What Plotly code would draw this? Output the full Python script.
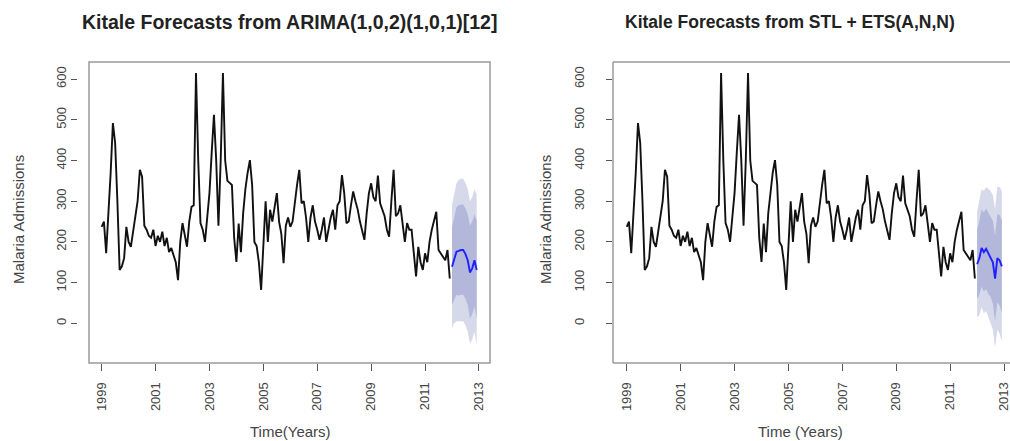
import plotly.graph_objects as go

# ---------------- data ----------------
start_year = 1999
admissions = [
    237, 250, 172, 260, 369, 492, 443, 300, 131, 140, 160, 237,   # 1999
    200, 188, 230, 260, 300, 377, 360, 240, 230, 215, 210, 230,   # 2000
    190, 215, 200, 225, 190, 210, 175, 185, 164, 150, 106, 200,   # 2001
    246, 220, 188, 250, 286, 290, 615, 400, 246, 230, 200, 260,   # 2002
    320, 420, 512, 400, 240, 400, 615, 400, 350, 345, 340, 210,   # 2003
    151, 245, 175, 270, 330, 370, 401, 340, 200, 190, 150, 82,    # 2004
    190, 300, 200, 279, 250, 286, 320, 250, 220, 148, 240, 260,   # 2005
    237, 250, 300, 340, 377, 295, 300, 260, 200, 260, 290, 250,   # 2006
    230, 205, 230, 260, 200, 230, 260, 279, 230, 290, 300, 364,   # 2007
    320, 246, 250, 290, 324, 300, 280, 250, 230, 205, 270, 320,   # 2008
    344, 310, 300, 363, 295, 280, 263, 230, 213, 300, 377, 263,   # 2009
    270, 290, 240, 200, 246, 230, 230, 180, 115, 188, 150, 131,   # 2010
    172, 150, 200, 230, 250, 274, 180, 172, 165, 155, 180, 110,   # 2011
]
forecast_start = 2012

arima_mean = [139, 160, 176, 178, 180, 180, 170, 155, 125, 135, 155, 131]
arima_lo80 = [45, 60, 70, 68, 70, 70, 60, 45, 12, 22, 42, 10]
arima_hi80 = [235, 262, 285, 290, 292, 292, 282, 268, 240, 250, 268, 253]
arima_lo95 = [-10, 0, 5, 5, 5, 5, -5, -20, -50, -40, -20, -55]
arima_hi95 = [290, 320, 345, 352, 355, 355, 345, 330, 300, 310, 330, 315]

ets_mean = [145, 160, 185, 175, 183, 172, 165, 150, 110, 160, 155, 140]
ets_lo80 = [60, 70, 90, 78, 84, 72, 65, 48, 5, 52, 44, 26]
ets_hi80 = [230, 250, 280, 272, 282, 272, 265, 252, 215, 268, 266, 254]
ets_lo95 = [15, 20, 40, 25, 30, 15, 5, -15, -60, -15, -25, -45]
ets_hi95 = [275, 300, 330, 325, 335, 330, 325, 315, 280, 335, 335, 325]

x_ticks = [1999, 2001, 2003, 2005, 2007, 2009, 2011, 2013]
y_ticks = [0, 100, 200, 300, 400, 500, 600]

titles = ["Kitale Forecasts from ARIMA(1,0,2)(1,0,1)[12]",
          "Kitale Forecasts from STL + ETS(A,N,N)"]
x_titles = ["Time(Years)", "Time (Years)"]
y_title = "Malaria Admissions"

# ---------------- figure ----------------
W, H = 1010, 441
t_hist = [start_year + i / 12 for i in range(len(admissions))]
t_fc = [forecast_start + i / 12 for i in range(len(arima_mean))]

FONT = "Liberation Sans, Arial, sans-serif"
SHADE95 = "#d6d9ea"
SHADE80 = "#b3b8da"
BOXC = "#999999"

fig = go.Figure()

panels = [
    ("x", "y", arima_mean, arima_lo80, arima_hi80, arima_lo95, arima_hi95),
    ("x2", "y2", ets_mean, ets_lo80, ets_hi80, ets_lo95, ets_hi95),
]
for xa, ya, m, l80, h80, l95, h95 in panels:
    fig.add_trace(go.Scatter(x=t_fc, y=l95, xaxis=xa, yaxis=ya, mode="lines",
                             line=dict(width=0, color=SHADE95), showlegend=False, hoverinfo="skip"))
    fig.add_trace(go.Scatter(x=t_fc, y=h95, xaxis=xa, yaxis=ya, mode="lines", fill="tonexty",
                             fillcolor=SHADE95, line=dict(width=0, color=SHADE95),
                             showlegend=False, hoverinfo="skip"))
    fig.add_trace(go.Scatter(x=t_fc, y=l80, xaxis=xa, yaxis=ya, mode="lines",
                             line=dict(width=0, color=SHADE80), showlegend=False, hoverinfo="skip"))
    fig.add_trace(go.Scatter(x=t_fc, y=h80, xaxis=xa, yaxis=ya, mode="lines", fill="tonexty",
                             fillcolor=SHADE80, line=dict(width=0, color=SHADE80),
                             showlegend=False, hoverinfo="skip"))
    fig.add_trace(go.Scatter(x=t_hist, y=admissions, xaxis=xa, yaxis=ya, mode="lines",
                             line=dict(color="#111111", width=1.9), showlegend=False))
    fig.add_trace(go.Scatter(x=t_fc, y=m, xaxis=xa, yaxis=ya, mode="lines",
                             line=dict(color="#2020ff", width=1.9), showlegend=False))

def px(x):
    return x / W

def py(y):
    return 1 - y / H

tickfont = dict(family=FONT, size=13, color="#444444")
common_x = dict(tickvals=x_ticks, ticktext=[str(v) for v in x_ticks], tickangle=-90,
                ticks="outside", ticklen=7, tickcolor="#555555", tickwidth=1,
                showgrid=False, zeroline=False, showline=False, tickfont=tickfont,
                ticklabelstandoff=6, ticklabeloverflow="allow")
common_y = dict(tickvals=y_ticks, ticktext=[str(v) for v in y_ticks], tickangle=-90,
                ticks="outside", ticklen=6, tickcolor="#555555", tickwidth=1,
                showgrid=False, zeroline=False, showline=False, tickfont=tickfont,
                range=[-97.5, 642])

fig.update_layout(
    width=W, height=H, autosize=False,
    margin=dict(l=0, r=0, t=0, b=0),
    paper_bgcolor="white", plot_bgcolor="white",
    xaxis=dict(domain=[px(89), px(490)], range=[1998.53, 2013.41], anchor="y", **common_x),
    yaxis=dict(domain=[py(363), py(62)], anchor="free", position=px(77), **common_y,
               ticklabelstandoff=0),
    xaxis2=dict(domain=[px(613), 1.0], range=[1998.49, 2013.22], anchor="y2", **common_x),
    yaxis2=dict(domain=[py(363), py(62)], anchor="x2", **common_y, ticklabelstandoff=17),
)

# plot boxes (the right panel box runs past the picture's right edge)
fig.add_shape(type="rect", xref="x domain", yref="y domain", x0=0, x1=1, y0=0, y1=1,
              line=dict(color=BOXC, width=1.5), layer="above")
for x0, y0, x1, y1 in [(0, 0, 0, 1), (0, 0, 1, 0), (0, 1, 1, 1)]:
    fig.add_shape(type="line", xref="x2 domain", yref="y2 domain", x0=x0, y0=y0, x1=x1, y1=y1,
                  line=dict(color=BOXC, width=1.5), layer="above")

# titles and axis titles
for cx, title, fs in zip([289, 790], titles, [19.5, 17.5]):
    fig.add_annotation(text="<b>%s</b>" % title, x=px(cx), y=py(22), xref="paper", yref="paper",
                       showarrow=False, xanchor="center", yanchor="middle",
                       font=dict(family=FONT, size=fs, color="#222222"))
for cx, t in zip([290, 800], x_titles):
    fig.add_annotation(text=t, x=px(cx), y=py(431), xref="paper", yref="paper",
                       showarrow=False, xanchor="center", yanchor="middle",
                       font=dict(family=FONT, size=15, color="#444444"))
for cx in [18, 545]:
    fig.add_annotation(text=y_title, x=px(cx), y=py(220), xref="paper", yref="paper",
                       showarrow=False, xanchor="center", yanchor="middle", textangle=-90,
                       font=dict(family=FONT, size=15, color="#444444"))

fig.write_html("out.html")
